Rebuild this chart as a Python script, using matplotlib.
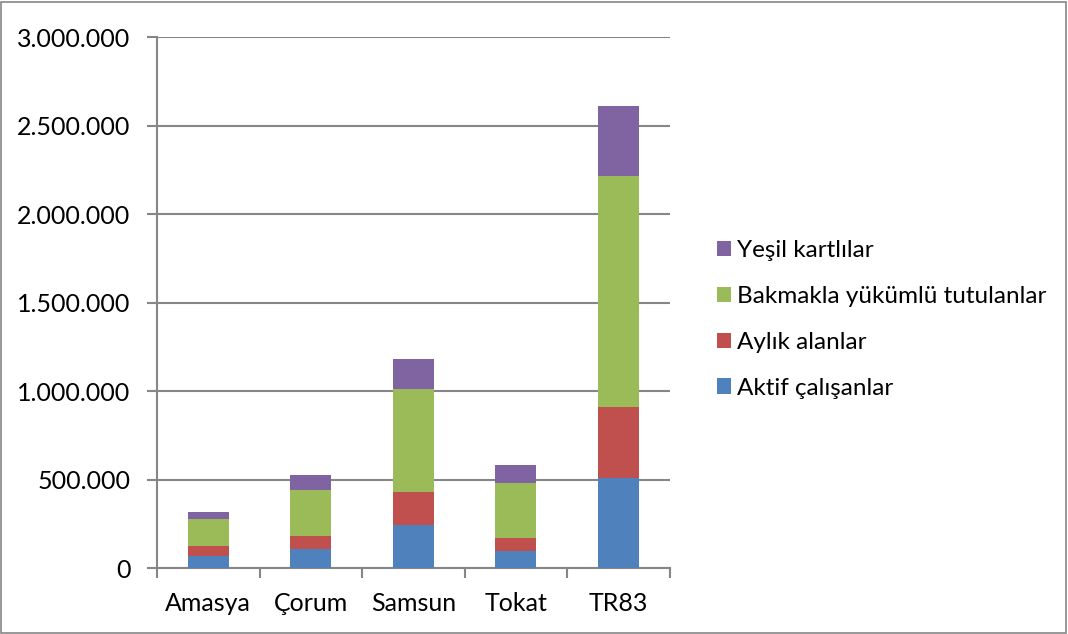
import matplotlib.pyplot as plt
import matplotlib.patches as mpatches
from matplotlib.ticker import FuncFormatter
import numpy as np

# values (people)
provinces = ['Amasya', 'Çorum', 'Samsun', 'Tokat', 'TR83']
aktif = [69000, 105000, 241000, 97000, 510000]
aylik = [57000, 77000, 188000, 75000, 399000]
bakmakla = [152000, 258000, 581000, 308000, 1306000]
yesil = [38000, 85000, 173000, 102000, 398000]

series = [
    ('Aktif çalışanlar', aktif, '#4F81BD'),
    ('Aylık alanlar', aylik, '#C0504D'),
    ('Bakmakla yükümlü tutulanlar', bakmakla, '#9BBB59'),
    ('Yeşil kartlılar', yesil, '#8064A2'),
]

plt.rcParams['font.family'] = ['Lato', 'DejaVu Sans']

fig = plt.figure(figsize=(10.68, 6.34), dpi=100)
ax = fig.add_axes([0.147, 0.104, 0.48, 0.8376])

x = np.arange(len(provinces))
bottom = np.zeros(len(provinces))
handles = []
for name, vals, col in series:
    b = ax.bar(x, vals, width=0.4, bottom=bottom, color=col, label=name, zorder=3)
    bottom += np.array(vals)
    handles.append(b)

ax.set_xlim(-0.5, len(provinces) - 0.5)
ax.set_ylim(0, 3000000)
ax.set_yticks(np.arange(0, 3000001, 500000))
ax.yaxis.set_major_formatter(FuncFormatter(lambda v, p: '{:,.0f}'.format(v).replace(',', '.')))
ax.yaxis.grid(True, color='#868686', linewidth=1.5, zorder=0)

ax.set_xticks(x)
ax.set_xticklabels(provinces)
ax.set_xticks(np.arange(-0.5, len(provinces)), minor=True)
ax.tick_params(axis='x', which='major', length=0, pad=17, labelsize=18)
ax.tick_params(axis='x', which='minor', length=7, width=1.5, color='#868686')
ax.tick_params(axis='y', length=7, width=1.5, color='#868686', labelsize=18, pad=12)

for s in ['top', 'right']:
    ax.spines[s].set_visible(False)
for s in ['left', 'bottom']:
    ax.spines[s].set_color('#868686')
    ax.spines[s].set_linewidth(1.5)

fig.legend(handles[::-1], [s[0] for s in series][::-1], loc='center left',
           bbox_to_anchor=(0.662, 0.496), frameon=False, fontsize=17.5,
           handlelength=0.6, handleheight=0.6, handletextpad=0.25,
           labelspacing=1.02, borderaxespad=0)

fig.patches.append(mpatches.Rectangle((0.001, 0.002), 0.997, 0.995, transform=fig.transFigure,
                                      fill=False, edgecolor='#868686', linewidth=1.2))

fig.savefig('out.png', dpi=100)
